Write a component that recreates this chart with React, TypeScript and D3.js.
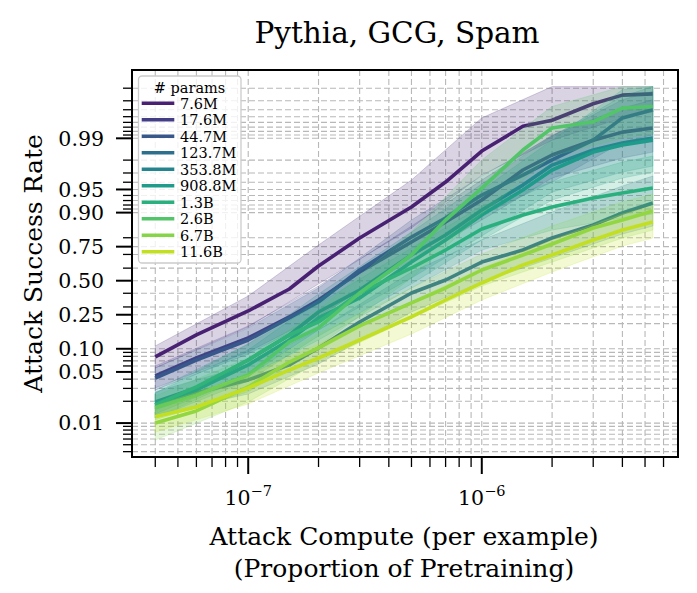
import * as d3 from 'd3';

// x grid (attack compute, proportion of pretraining) for the median lines
const computeGrid = [4e-8, 6e-8, 1e-7, 1.5e-7, 2e-7, 3e-7, 5e-7, 7e-7, 1e-6, 1.5e-6, 2e-6, 3e-6, 4e-6, 5.4e-6];
// coarser x grid for the shaded bands
const bandGrid = [4e-8, 1e-7, 2e-7, 5e-7, 1e-6, 2e-6, 4e-6, 5.4e-6];

const modelSizes = ['7.6M', '17.6M', '44.7M', '123.7M', '353.8M', '908.8M', '1.3B', '2.6B', '6.7B', '11.6B'];

// median attack success rate per model
const asr7_6M = [0.0787, 0.148, 0.2735, 0.4334, 0.6163, 0.7985, 0.9151, 0.9602, 0.985, 0.9932, 0.9944, 0.9967, 0.9975, 0.9976];
const asr17_6M = [0.0441, 0.0763, 0.1361, 0.2367, 0.3491, 0.5698, 0.7769, 0.8692, 0.931, 0.9727, 0.983, 0.9894, 0.9918, 0.9928];
const asr44_7M = [0.0415, 0.0718, 0.1286, 0.2309, 0.3347, 0.5854, 0.8038, 0.8832, 0.9407, 0.968, 0.9801, 0.9894, 0.9948, 0.996];
const asr123_7M = [0.019, 0.026, 0.0391, 0.0619, 0.1024, 0.2088, 0.402, 0.5057, 0.6463, 0.7291, 0.7985, 0.8578, 0.8988, 0.9246];
const asr353_8M = [0.0196, 0.0304, 0.0718, 0.1478, 0.267, 0.4256, 0.6961, 0.8137, 0.9073, 0.9563, 0.9766, 0.9855, 0.9884, 0.9901];
const asr908_8M = [0.0178, 0.0286, 0.0619, 0.1286, 0.2309, 0.364, 0.6463, 0.788, 0.8927, 0.9491, 0.9727, 0.9845, 0.9876, 0.9894];
const asr1_3B = [0.0178, 0.0314, 0.0718, 0.1478, 0.2088, 0.402, 0.6011, 0.7291, 0.8413, 0.8927, 0.9151, 0.9351, 0.9442, 0.9521];
const asr2_6B = [0.0162, 0.0244, 0.0455, 0.1217, 0.1787, 0.402, 0.6961, 0.8763, 0.9521, 0.9855, 0.9928, 0.9941, 0.9962, 0.9964];
const asr6_7B = [0.01, 0.0147, 0.0314, 0.0676, 0.1024, 0.1884, 0.3276, 0.4415, 0.5854, 0.6961, 0.7656, 0.8455, 0.8763, 0.9045];
const asr11_6B = [0.0122, 0.0167, 0.0304, 0.0531, 0.0763, 0.1286, 0.2367, 0.3491, 0.4815, 0.6239, 0.6961, 0.788, 0.8368, 0.8692];

// lower / upper edges of the shaded spread
const lo7_6M = [0.0565, 0.1834, 0.4735, 0.8455, 0.968, 0.9894, 0.9948, 0.9957];
const hi7_6M = [0.1085, 0.379, 0.7599, 0.9626, 0.9948, 0.9981, 0.9981, 0.9981];
const lo17_6M = [0.0304, 0.0911, 0.2425, 0.6611, 0.8763, 0.9649, 0.9813, 0.9845];
const hi17_6M = [0.06, 0.1884, 0.4574, 0.8538, 0.9626, 0.991, 0.9962, 0.9971];
const lo44_7M = [0.0286, 0.0858, 0.2309, 0.6961, 0.8927, 0.9602, 0.9887, 0.991];
const hi44_7M = [0.0565, 0.1787, 0.4415, 0.8763, 0.967, 0.9907, 0.9971, 0.9978];
const lo123_7M = [0.013, 0.0252, 0.0637, 0.267, 0.4895, 0.6752, 0.8185, 0.8538];
const hi123_7M = [0.0269, 0.0619, 0.1694, 0.5698, 0.788, 0.9017, 0.955, 0.967];
const lo353_8M = [0.0134, 0.0441, 0.1694, 0.5217, 0.8088, 0.9459, 0.9709, 0.9759];
const hi353_8M = [0.0286, 0.1149, 0.3944, 0.828, 0.9577, 0.9907, 0.9974, 0.9981];
const lo908_8M = [0.0118, 0.0379, 0.1438, 0.4735, 0.788, 0.931, 0.9649, 0.9709];
const hi908_8M = [0.026, 0.0967, 0.3491, 0.788, 0.9491, 0.9894, 0.9979, 0.9981];
const lo1_3B = [0.0118, 0.0441, 0.1286, 0.4415, 0.7291, 0.8368, 0.8832, 0.8959];
const hi1_3B = [0.026, 0.1149, 0.3204, 0.7417, 0.9176, 0.9602, 0.9787, 0.9824];
const lo2_6B = [0.0111, 0.0269, 0.1085, 0.5217, 0.8959, 0.9824, 0.9901, 0.9913];
const hi2_6B = [0.0237, 0.0763, 0.2799, 0.828, 0.9801, 0.9964, 0.9981, 0.9981];
const lo6_7B = [0.0058, 0.0196, 0.0676, 0.2309, 0.4574, 0.6463, 0.7985, 0.8368];
const hi6_7B = [0.0143, 0.0485, 0.152, 0.4415, 0.7029, 0.8538, 0.9269, 0.9425];
const lo11_6B = [0.0075, 0.0184, 0.0485, 0.152, 0.3491, 0.5698, 0.7538, 0.7985];
const hi11_6B = [0.0173, 0.0455, 0.1149, 0.3347, 0.6011, 0.788, 0.8959, 0.9176];

const yMajorTicks = [0.01, 0.05, 0.1, 0.25, 0.5, 0.75, 0.9, 0.95, 0.99];
const yMajorLabels = ['0.01', '0.05', '0.10', '0.25', '0.50', '0.75', '0.90', '0.95', '0.99'];
const yMinorTicks = [
  0.004, 0.005, 0.006, 0.007, 0.008, 0.009,
  0.02, 0.03, 0.04, 0.06, 0.07, 0.08, 0.09,
  0.2, 0.3, 0.4, 0.6, 0.7, 0.8,
  0.91, 0.92, 0.93, 0.94, 0.96, 0.97, 0.98,
  0.991, 0.992, 0.993, 0.994, 0.995, 0.996, 0.997, 0.998,
];

const medians = [asr7_6M, asr17_6M, asr44_7M, asr123_7M, asr353_8M, asr908_8M, asr1_3B, asr2_6B, asr6_7B, asr11_6B];
const lows = [lo7_6M, lo17_6M, lo44_7M, lo123_7M, lo353_8M, lo908_8M, lo1_3B, lo2_6B, lo6_7B, lo11_6B];
const highs = [hi7_6M, hi17_6M, hi44_7M, hi123_7M, hi353_8M, hi908_8M, hi1_3B, hi2_6B, hi6_7B, hi11_6B];

const width = 697;
const height = 593;
const m = { left: 132, right: 678, top: 70, bottom: 457 };
const font = '"DejaVu Serif", serif';

const logit = (p: number) => Math.log(p / (1 - p));

export default function App() {
  const x = d3.scaleLog().domain([3.18e-8, 6.92e-6]).range([m.left, m.right]);
  // logit axis: a linear scale on log-odds
  const yLogit = d3.scaleLinear().domain([-5.69, 6.8]).range([m.bottom, m.top]);
  const y = (p: number) => yLogit(logit(p));

  const colour = (i: number) => d3.interpolateViridis((i + 1) / 11);

  const xTicks = x.ticks();
  const isMajor = (v: number) => Math.abs(Math.log10(v) - Math.round(Math.log10(v))) < 1e-6;
  const xMajor = xTicks.filter(isMajor);
  const xMinor = xTicks.filter((v) => !isMajor(v));

  const line = d3
    .line<number>()
    .x((_, i) => x(computeGrid[i]))
    .y((d) => y(d));

  const band = (lo: number[], hi: number[]) =>
    d3
      .area<number>()
      .x((_, i) => x(bandGrid[i]))
      .y0((_, i) => y(lo[i]))
      .y1((_, i) => y(hi[i]))(lo);

  const gridStyle = { stroke: '#b8b8b8', strokeWidth: 1.1, strokeDasharray: '6,3' };

  return (
    <div style={{ position: 'absolute', left: 0, top: 0 }}>
      <svg width={width} height={height} viewBox={`0 0 ${width} ${height}`} style={{ display: 'block', background: '#fff' }}>
        <defs>
          <clipPath id="plot-area">
            <rect x={m.left} y={m.top} width={m.right - m.left} height={m.bottom - m.top} />
          </clipPath>
        </defs>

        {/* grid, major and minor */}
        <g id="grid">
          {xTicks.map((v) => (
            <line key={'gx' + v} x1={x(v)} x2={x(v)} y1={m.top} y2={m.bottom} {...gridStyle} />
          ))}
          {[...yMajorTicks, ...yMinorTicks].map((v) => (
            <line key={'gy' + v} x1={m.left} x2={m.right} y1={y(v)} y2={y(v)} {...gridStyle} />
          ))}
        </g>

        {/* bands and median lines */}
        <g clipPath="url(#plot-area)">
          {medians.map((vals, i) => (
            <g key={modelSizes[i]}>
              <path
                d={band(lows[i], highs[i]) || ''}
                fill={colour(i)}
                fillOpacity={0.2}
                stroke={colour(i)}
                strokeOpacity={0.2}
                strokeWidth={1}
              />
              <path d={line(vals) || ''} fill="none" stroke={colour(i)} strokeWidth={3.6} strokeLinejoin="round" />
            </g>
          ))}
        </g>

        {/* spines */}
        <rect
          x={m.left}
          y={m.top}
          width={m.right - m.left}
          height={m.bottom - m.top}
          fill="none"
          stroke="#000"
          strokeWidth={2}
        />

        {/* x ticks */}
        <g id="xAxis">
          {xMinor.map((v) => (
            <line key={'xm' + v} x1={x(v)} x2={x(v)} y1={m.bottom} y2={m.bottom + 10} stroke="#000" strokeWidth={1.3} />
          ))}
          {xMajor.map((v) => (
            <g key={'xM' + v}>
              <line x1={x(v)} x2={x(v)} y1={m.bottom} y2={m.bottom + 17} stroke="#000" strokeWidth={2} />
              <text x={x(v)} y={505} textAnchor="middle" fontFamily={font} fontSize={20.5} fill="#000">
                10
                <tspan dy={-9} fontSize={14.5}>
                  {'\u2212' + Math.abs(Math.round(Math.log10(v)))}
                </tspan>
              </text>
            </g>
          ))}
        </g>

        {/* y ticks */}
        <g id="yAxis">
          {yMinorTicks.map((v) => (
            <line key={'ym' + v} x1={m.left - 9} x2={m.left} y1={y(v)} y2={y(v)} stroke="#000" strokeWidth={1.3} />
          ))}
          {yMajorTicks.map((v, i) => (
            <g key={'yM' + v}>
              <line x1={m.left - 16} x2={m.left} y1={y(v)} y2={y(v)} stroke="#000" strokeWidth={2} />
              <text x={104} y={y(v)} dy="0.36em" textAnchor="end" fontFamily={font} fontSize={20.5} fill="#000">
                {yMajorLabels[i]}
              </text>
            </g>
          ))}
        </g>

        {/* labels */}
        <text x={397} y={43} textAnchor="middle" fontFamily={font} fontSize={29.5} fill="#000">
          Pythia, GCG, Spam
        </text>
        <text
          transform={`translate(41.5, ${(m.top + m.bottom) / 2}) rotate(-90)`}
          textAnchor="middle"
          fontFamily={font}
          fontSize={25}
          fill="#000"
        >
          Attack Success Rate
        </text>
        <text x={404} y={545} textAnchor="middle" fontFamily={font} fontSize={25} fill="#000">
          Attack Compute (per example)
        </text>
        <text x={404} y={577} textAnchor="middle" fontFamily={font} fontSize={25} fill="#000">
          (Proportion of Pretraining)
        </text>

        {/* legend */}
        <g id="legend">
          <rect x={138.5} y={76} width={102.5} height={187} rx={3.5} fill="#fff" fillOpacity={0.8} stroke="#cccccc" strokeWidth={1.3} />
          <text x={189.5} y={93} textAnchor="middle" fontFamily={font} fontSize={14.5} fill="#000">
            # params
          </text>
          {modelSizes.map((name, i) => {
            const cy = 103.3 + i * 16.5;
            return (
              <g key={'lg' + name}>
                <line x1={141.7} x2={174.3} y1={cy} y2={cy} stroke={colour(i)} strokeWidth={3.6} />
                <text x={180} y={cy} dy="0.36em" fontFamily={font} fontSize={14.5} fill="#000">
                  {name}
                </text>
              </g>
            );
          })}
        </g>
      </svg>
    </div>
  );
}
